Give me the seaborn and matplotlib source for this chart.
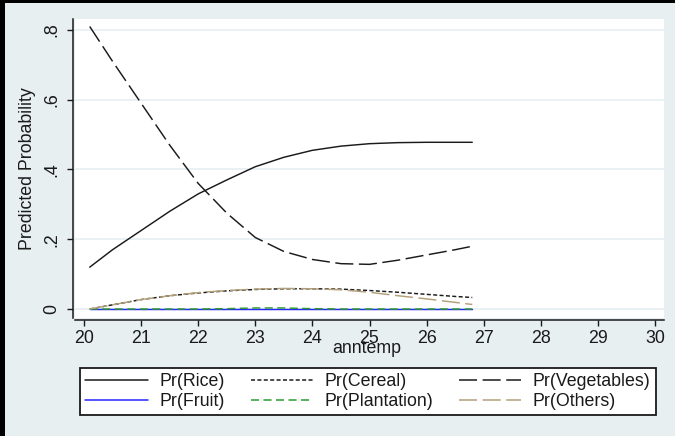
import numpy as np
import pandas as pd
import seaborn as sns
import matplotlib
matplotlib.use("Agg")
import matplotlib.pyplot as plt
from matplotlib.patches import Rectangle
from matplotlib.lines import Line2D

# Predicted probabilities of crop choice by annual temperature
anntemp = [20.1, 20.5, 21.0, 21.5, 22.0, 22.5, 23.0, 23.5, 24.0, 24.5, 25.0, 25.5, 26.0, 26.5, 26.8]
pr_rice = [0.120, 0.170, 0.225, 0.280, 0.330, 0.370, 0.408, 0.435, 0.455, 0.467, 0.474, 0.477, 0.478, 0.478, 0.478]
pr_cereal = [0.000, 0.012, 0.027, 0.038, 0.046, 0.052, 0.056, 0.058, 0.058, 0.057, 0.053, 0.048, 0.042, 0.036, 0.033]
pr_vegetables = [0.810, 0.710, 0.590, 0.470, 0.360, 0.275, 0.205, 0.165, 0.142, 0.130, 0.128, 0.140, 0.155, 0.170, 0.180]
pr_fruit = [0.000, 0.000, 0.000, 0.000, 0.000, 0.000, 0.000, 0.000, 0.000, 0.000, 0.000, 0.000, 0.000, 0.000, 0.000]
pr_plantation = [0.000, 0.000, 0.000, 0.000, 0.000, 0.001, 0.003, 0.003, 0.001, 0.000, 0.000, 0.000, 0.000, 0.000, 0.000]
pr_others = [0.000, 0.012, 0.027, 0.038, 0.047, 0.053, 0.057, 0.059, 0.058, 0.055, 0.048, 0.038, 0.029, 0.019, 0.013]

series = ["Pr(Rice)", "Pr(Cereal)", "Pr(Vegetables)", "Pr(Fruit)", "Pr(Plantation)", "Pr(Others)"]
values = [pr_rice, pr_cereal, pr_vegetables, pr_fruit, pr_plantation, pr_others]
x_ticks = [20, 21, 22, 23, 24, 25, 26, 27, 28, 29, 30]
y_ticks = [0, 0.2, 0.4, 0.6, 0.8]
y_ticklabels = ["0", ".2", ".4", ".6", ".8"]

df = pd.DataFrame({
    "anntemp": np.tile(anntemp, len(series)),
    "prob": np.concatenate(values),
    "series": np.repeat(series, len(anntemp)),
})

colors = {
    "Pr(Rice)": "#1a1a1a",
    "Pr(Cereal)": "#1a1a1a",
    "Pr(Vegetables)": "#1a1a1a",
    "Pr(Fruit)": "#2626ff",
    "Pr(Plantation)": "#2e9a2e",
    "Pr(Others)": "#b3a07a",
}
dashes = {
    "Pr(Rice)": "",
    "Pr(Cereal)": (2.9, 1.7),
    "Pr(Vegetables)": (13, 4),
    "Pr(Fruit)": "",
    "Pr(Plantation)": (5.8, 3.2),
    "Pr(Others)": (13, 4),
}

BG = "#e8eff1"
sns.set_theme(style="white")
plt.rcParams["font.family"] = ["Liberation Sans", "DejaVu Sans"]
plt.rcParams["lines.scale_dashes"] = False

W, H = 675, 436
fig = plt.figure(figsize=(W / 100, H / 100), dpi=100, facecolor=BG)
ax = fig.add_axes([75 / W, 1 - 318 / H, 589 / W, 299 / H])
ax.set_facecolor("white")

sns.lineplot(data=df, x="anntemp", y="prob", hue="series", style="series",
             hue_order=series, style_order=series, palette=colors, dashes=dashes,
             linewidth=1.05, legend=False, ax=ax)

ax.set_xlim(19.842, 30.158)
ax.set_ylim(-0.0258, 0.8315)
ax.yaxis.grid(True, color="#e6eff2", linewidth=1.2)
ax.xaxis.grid(False)

for side in ["top", "right"]:
    ax.spines[side].set_visible(False)
for side in ["left", "bottom"]:
    ax.spines[side].set_visible(True)
    ax.spines[side].set_color("#1a1a1a")
    ax.spines[side].set_linewidth(1.1)
    ax.spines[side].set_position(("outward", 1.5))

ax.tick_params(axis="both", which="major", direction="out", length=4.3, width=1.0,
               color="#1a1a1a", labelsize=12.8, labelcolor="#1a1a1a",
               left=True, bottom=True)
ax.tick_params(axis="y", pad=11.0, labelrotation=90)
ax.tick_params(axis="x", pad=3.0)

ax.set_xticks(x_ticks)
ax.set_yticks(y_ticks)
ax.set_yticklabels(y_ticklabels)
for lab in ax.get_yticklabels():
    lab.set_rotation(90)
    lab.set_ha("center")
    lab.set_va("center")

ax.set_xlabel("anntemp", fontsize=12.8, color="#1a1a1a")
ax.set_ylabel("Predicted Probability", fontsize=12.8, color="#1a1a1a")
ax.xaxis.label.set_va("center")
ax.xaxis.set_label_coords((367 - 75) / 589, (318 - 348) / 299)
ax.yaxis.label.set_va("center")
ax.yaxis.set_label_coords((28 - 75) / 589, (318 - 169) / 299)

# Legend: two rows, filled row by row
handle_map = {s: Line2D([], [], color=colors[s], linewidth=1.1,
                        linestyle=(0, dashes[s]) if dashes[s] else "-")
              for s in series}
order = ["Pr(Rice)", "Pr(Fruit)", "Pr(Cereal)", "Pr(Plantation)", "Pr(Vegetables)", "Pr(Others)"]
leg = fig.legend([handle_map[s] for s in order], order, ncol=3, loc="center",
                 bbox_to_anchor=(80 / W, 1 - 415 / H, 576 / W, 47 / H), mode="expand",
                 fontsize=12.8, handlelength=3.5, handletextpad=0.65,
                 borderaxespad=0, borderpad=0.3, labelspacing=0.15,
                 fancybox=False, framealpha=1, edgecolor="#1a1a1a")
leg.get_frame().set_linewidth(1.3)
for t in leg.get_texts():
    t.set_color("#1a1a1a")

# Dark frame strips along the left and top edges
fig.patches.append(Rectangle((0, 0), 5 / W, 1, transform=fig.transFigure,
                             facecolor="black", edgecolor="none", zorder=10))
fig.patches.append(Rectangle((0, 1 - 3 / H), 1, 3 / H, transform=fig.transFigure,
                             facecolor="black", edgecolor="none", zorder=10))

fig.savefig("out.png", dpi=100, facecolor=BG)
